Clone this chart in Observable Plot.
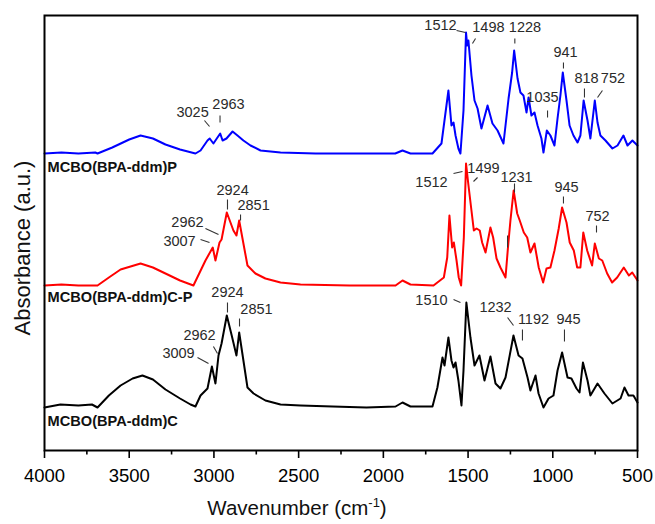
<!DOCTYPE html>
<html><head><meta charset="utf-8">
<script src="https://cdn.jsdelivr.net/npm/d3@7"></script>
<script src="https://cdn.jsdelivr.net/npm/@observablehq/plot@0.6"></script>
<style>
body{margin:0;background:#fff}
svg{font-family:"Liberation Sans",Arial,sans-serif}
</style>
</head><body><div id="chart"></div>
<script>
// Series
const seriesNames = ["MCBO(BPA-ddm)C", "MCBO(BPA-ddm)C-P", "MCBO(BPA-ddm)P"];
const seriesColors = ["#000000", "#ff0000", "#0000ff"];
const seriesOffsets = [43, 165, 297];

// Spectra: [wavenumber (cm-1), absorbance (a.u., above own baseline)]
const spectrumC = [[4000,0],[3906,3],[3800,2],[3720,3],[3687,0],[3620,12],[3551,22],[3480,29],[3422,32],[3360,28],[3286,18],[3200,9],[3138,3],[3109,1],[3079,12],[3038,19],[3012,41],[2991,24],[2973,52],[2955,64],[2924,92],[2895,72],[2867,52],[2851,75],[2826,47],[2802,20],[2766,14],[2696,7],[2607,3],[2489,2],[2300,1],[2100,0],[1928,1],[1887,5],[1840,1],[1710,1],[1681,20],[1651,50],[1639,42],[1616,70],[1598,47],[1586,40],[1574,45],[1557,27],[1539,2],[1527,37],[1510,105],[1486,70],[1462,42],[1433,52],[1403,27],[1368,51],[1338,24],[1309,19],[1279,30],[1232,72],[1202,52],[1179,49],[1149,30],[1132,17],[1102,32],[1084,14],[1055,0],[1025,9],[996,12],[972,37],[945,55],[913,30],[890,29],[860,19],[842,15],[822,45],[795,27],[778,12],[736,24],[695,14],[648,4],[600,9],[577,20],[553,12],[524,12],[500,5]];

const spectrumCP = [[4000,0],[3900,1],[3800,0],[3687,0],[3620,8],[3551,16],[3433,22],[3360,18],[3286,12],[3200,5],[3121,0],[3050,25],[3007,38],[2991,25],[2967,43],[2955,46],[2924,73],[2885,55],[2867,50],[2851,65],[2826,42],[2802,20],[2755,12],[2696,7],[2607,3],[2489,1],[2200,0],[1928,0],[1887,5],[1840,1],[1704,0],[1643,8],[1623,28],[1610,70],[1594,38],[1584,43],[1568,25],[1555,8],[1541,0],[1525,48],[1512,122],[1499,102],[1480,75],[1466,55],[1450,57],[1431,55],[1417,43],[1397,33],[1368,58],[1352,48],[1332,27],[1309,18],[1279,8],[1265,37],[1250,65],[1231,95],[1210,72],[1195,65],[1171,53],[1151,48],[1132,33],[1108,42],[1083,18],[1057,3],[1037,17],[1014,18],[990,35],[965,57],[945,78],[919,63],[900,43],[876,35],[856,18],[837,18],[820,53],[797,35],[768,20],[752,42],[728,27],[708,25],[679,12],[650,3],[620,8],[581,18],[551,10],[531,13],[500,5]];

const spectrumP = [[4000,0],[3900,1],[3800,0],[3700,1],[3687,0],[3600,6],[3500,14],[3433,18],[3360,15],[3286,9],[3200,4],[3109,0],[3079,3],[3038,13],[3025,15],[3003,10],[2963,20],[2949,13],[2926,15],[2890,22],[2861,18],[2826,13],[2784,8],[2725,3],[2607,1],[2400,0],[2100,0],[1930,0],[1887,3],[1840,0],[1710,0],[1657,10],[1616,63],[1598,28],[1586,31],[1574,18],[1557,5],[1545,0],[1527,43],[1512,121],[1505,108],[1498,113],[1480,78],[1462,53],[1444,45],[1421,25],[1385,48],[1356,30],[1326,23],[1291,10],[1261,55],[1240,81],[1228,103],[1208,75],[1191,61],[1173,58],[1155,41],[1143,56],[1126,38],[1108,41],[1090,28],[1067,15],[1055,1],[1035,23],[1014,18],[990,8],[972,35],[955,58],[941,81],[919,53],[901,28],[878,18],[854,11],[837,18],[818,53],[795,33],[778,15],[752,53],[736,31],[719,18],[689,13],[648,5],[618,8],[583,18],[559,8],[530,13],[500,8]];

const spectra = [spectrumC, spectrumCP, spectrumP];

// Axis ticks
const xTicks = [4000, 3500, 3000, 2500, 2000, 1500, 1000, 500];
const xMinorTicks = [3750, 3250, 2750, 2250, 1750, 1250, 750];

// Peak annotations: label, text position (wn, y), leader line (wn1, y1, wn2, y2)
const peakLabels  = ["3025","2963","1512","1498","1228","1035","941","818","752",
                     "3007","2962","2924","2851","1512","1499","1231","945","752","",
                     "3009","2962","2924","2851","1510","1232","1192","945"];
const peakTextWn  = [3126,2914,1663,1380,1164,1061,925,801,645,
                     3203,3156,2890,2766,1716,1409,1214,919,736,1267,
                     3209,3085,2920,2749,1716,1338,1114,907];
const peakTextY   = [338,346,425,423,423,353,398,372,372,
                     209,228,260,245,268,282,273,263,234,0,
                     97,115,158,141,150,143,131,131];
const leadWn1 = [3056,2964,1568,1474,1224,1031,937,813,736,
                 3079,3050,2920,2843,1586,1468,1226,937,742,1267,
                 3097,3003,2920,2849,1586,1267,1179,931];
const leadY1  = [330,335,420,407,412,340,388,362,353,
                 211,222,251,236,277,269,267,254,225,215,
                 93,104,148,132,151,133,121,121];
const leadWn2 = [3026,2964,1515,1456,1224,1031,937,813,707,
                 3026,2973,2920,2843,1533,1444,1226,937,742,1267,
                 3032,2979,2920,2849,1545,1232,1179,931];
const leadY2  = [324,328,418,412,407,333,382,353,360,
                 208,216,241,230,279,273,258,247,218,203,
                 87,97,138,124,148,125,110,109];

// Series name labels (wn, y)
const nameWn = [3982, 3982, 3982];
const nameY = [29, 153, 283];

// Build tables
const lineData = spectra.flatMap((s, i) => s.map(([wn, a]) => ({series: seriesNames[i], wn, a: a + seriesOffsets[i]})));
const annots = peakLabels.map((label, i) => ({label, wn: peakTextWn[i], y: peakTextY[i]})).filter(d => d.label);
const leaders = leadWn1.map((w, i) => ({x1: w, y1: leadY1[i], x2: leadWn2[i], y2: leadY2[i]}));
const names = seriesNames.map((n, i) => ({n, wn: nameWn[i], y: nameY[i]}));

const chart = Plot.plot({
  width: 655,
  height: 524,
  marginLeft: 44,
  marginRight: 18,
  marginTop: 15,
  marginBottom: 74,
  style: {fontFamily: '"Liberation Sans", Arial, sans-serif', background: "white", color: "black"},
  x: {domain: [4000, 500], label: null},
  y: {domain: [0, 435], axis: null},
  color: {domain: seriesNames, range: seriesColors},
  marks: [
    Plot.line(lineData, {x: "wn", y: "a", z: "series", stroke: "series", strokeWidth: 2, strokeLinejoin: "round"}),
    Plot.link(leaders, {x1: "x1", y1: "y1", x2: "x2", y2: "y2", stroke: "#333", strokeWidth: 1.1}),
    Plot.text(annots, {x: "wn", y: "y", text: "label", fontSize: 14.5, fill: "#2a2a2a"}),
    Plot.text(names, {x: "wn", y: "y", text: "n", textAnchor: "start", fontSize: 14.6, fontWeight: "bold", fill: "#111"}),
    Plot.axisX({ticks: xMinorTicks, tickSize: 4.5, tickFormat: () => "", strokeWidth: 1.6, label: null}),
    Plot.axisX({ticks: xTicks, tickSize: 8, tickPadding: 10, tickFormat: "d", fontSize: 18.5, strokeWidth: 1.6, label: null}),
    Plot.frame({stroke: "black", strokeWidth: 2}),
    Plot.text(["Wavenumber (cm-1)"], {frameAnchor: "bottom", textAnchor: "middle", lineAnchor: "middle", dx: -44, dy: 58, fontSize: 20.5, fill: "#111"}),
    Plot.text(["Absorbance (a.u.)"], {frameAnchor: "left", textAnchor: "middle", lineAnchor: "middle", rotate: -90, dx: -22, dy: 15, fontSize: 22, fill: "#111"})
  ]
});

// superscript for cm-1
d3.select(chart).selectAll("text").filter(function() { return this.textContent === "Wavenumber (cm-1)"; })
  .each(function() {
    const t = d3.select(this);
    t.text("Wavenumber (cm");
    t.append("tspan").attr("dy", -8).attr("font-size", 13).text("-1");
    t.append("tspan").attr("dy", 8).text(")");
  });

document.getElementById("chart").appendChild(chart);
</script>
</body></html>
